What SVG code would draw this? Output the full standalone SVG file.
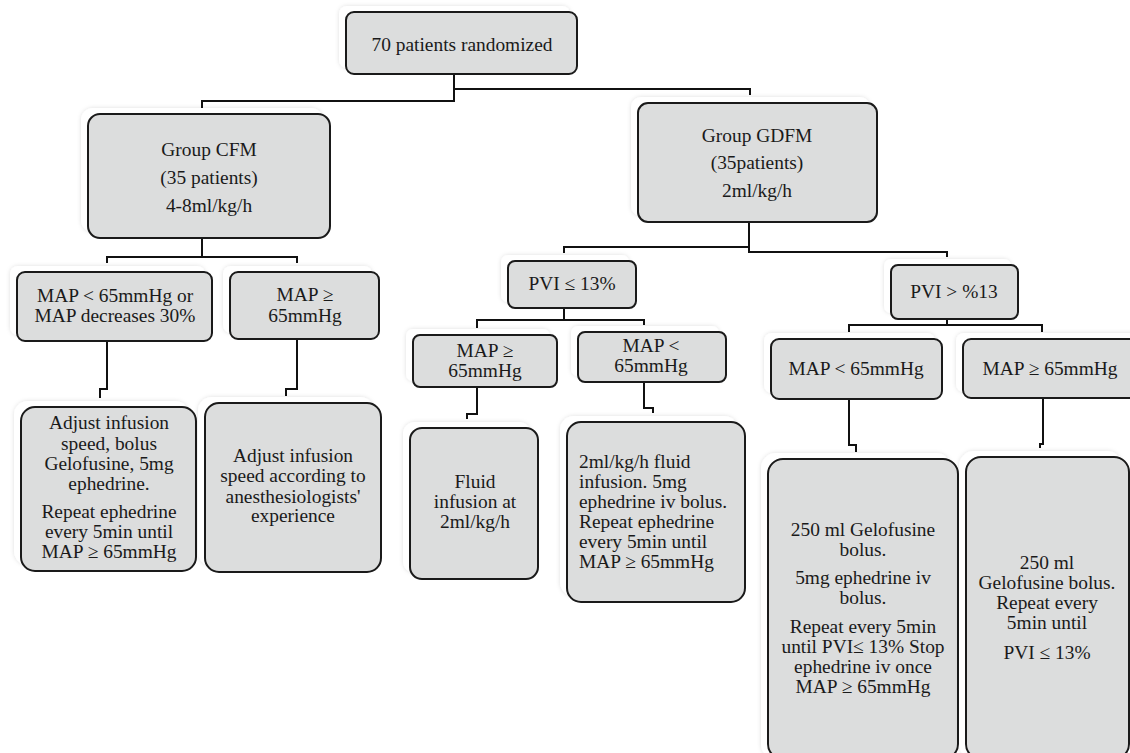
<svg xmlns="http://www.w3.org/2000/svg" width="1130" height="753" viewBox="0 0 1130 753">
<style>
.halo{fill:#ffffff;filter:url(#sh)}
.box{fill:#dcdddd;stroke:#1a1a1a;stroke-width:2}
.t{font-family:"Liberation Serif","Times New Roman",serif;font-size:19.4px;fill:#1a1a1a;text-anchor:middle}
.tl{font-family:"Liberation Serif","Times New Roman",serif;font-size:19.4px;fill:#1a1a1a;text-anchor:start}
.c{fill:none;stroke:#111;stroke-width:2}
</style>
<defs>
<filter id="sh" x="-10%" y="-10%" width="120%" height="120%">
<feDropShadow dx="0" dy="0" stdDeviation="2" flood-color="#000" flood-opacity="0.13"/>
</filter>
</defs>
<rect width="1130" height="753" fill="#ffffff"/>

<g id="connectors">
<path class="c" d="M454,74 V101 H202 V108"/>
<path class="c" d="M454,89 H750 V95"/>
<path class="c" d="M202,238 V257 M107,263 V257 H297 V263"/>
<path class="c" d="M107,341 V389 H100 V398"/>
<path class="c" d="M297,339 V389 H286 V396"/>
<path class="c" d="M749,222 V252 H947 V257 M749,247 H564 V253"/>
<path class="c" d="M564,308 V320 M477,328 V320 H644 V325"/>
<path class="c" d="M947,319 V325 M849,332 V325 H1042 V332"/>
<path class="c" d="M477,387 V414 H467 V419"/>
<path class="c" d="M644,382 V408 H653 V413"/>
<path class="c" d="M849,399 V445 H856 V452"/>
<path class="c" d="M1043,398 V444 H1040 V448"/>
</g>

<g id="n-randomized">
<rect class="halo" x="339" y="6" width="231" height="62" rx="8"/>
<rect class="box" x="346" y="12" width="231" height="62" rx="8"/>
<text class="t" x="462" y="50.5">70 patients randomized</text>
</g>

<g id="n-cfm">
<rect class="halo" x="81" y="108" width="242" height="124" rx="12"/>
<rect class="box" x="88" y="114" width="242" height="124" rx="12"/>
<text class="t" x="209" y="155.5">Group CFM</text>
<text class="t" x="209" y="183.5">(35 patients)</text>
<text class="t" x="209" y="211.5">4-8ml/kg/h</text>
</g>

<g id="n-gdfm">
<rect class="halo" x="631" y="97" width="239" height="119" rx="10"/>
<rect class="box" x="638" y="103" width="239" height="119" rx="10"/>
<text class="t" x="757" y="141.5">Group GDFM</text>
<text class="t" x="757" y="169">(35patients)</text>
<text class="t" x="757" y="196.5">2ml/kg/h</text>
</g>

<g id="n-cfm-low">
<rect class="halo" x="10" y="266" width="195" height="69" rx="8"/>
<rect class="box" x="17" y="272" width="195" height="69" rx="8"/>
<text class="t" x="115" y="302">MAP &lt; 65mmHg or</text>
<text class="t" x="115" y="322">MAP decreases 30%</text>
</g>

<g id="n-cfm-high">
<rect class="halo" x="223" y="266" width="149" height="67" rx="8"/>
<rect class="box" x="230" y="272" width="149" height="67" rx="8"/>
<text class="t" x="305" y="301">MAP ≥</text>
<text class="t" x="305" y="321.5">65mmHg</text>
</g>

<g id="n-pvi-low">
<rect class="halo" x="501" y="255" width="128" height="47" rx="7"/>
<rect class="box" x="508" y="261" width="128" height="47" rx="7"/>
<text class="t" x="572" y="290">PVI ≤ 13%</text>
</g>

<g id="n-pvi-high">
<rect class="halo" x="884" y="259" width="127" height="54" rx="7"/>
<rect class="box" x="891" y="265" width="127" height="54" rx="7"/>
<text class="t" x="954" y="298">PVI &gt; %13</text>
</g>

<g id="n-mid-map-high">
<rect class="halo" x="406" y="329" width="144" height="52" rx="7"/>
<rect class="box" x="413" y="335" width="144" height="52" rx="7"/>
<text class="t" x="485" y="356.5">MAP ≥</text>
<text class="t" x="485" y="376.5">65mmHg</text>
</g>

<g id="n-mid-map-low">
<rect class="halo" x="571" y="326" width="148" height="50" rx="7"/>
<rect class="box" x="578" y="332" width="148" height="50" rx="7"/>
<text class="t" x="651" y="352">MAP &lt;</text>
<text class="t" x="651" y="372">65mmHg</text>
</g>

<g id="n-right-map-low">
<rect class="halo" x="764" y="333" width="171" height="60" rx="8"/>
<rect class="box" x="771" y="339" width="171" height="60" rx="8"/>
<text class="t" x="856" y="375">MAP &lt; 65mmHg</text>
</g>

<g id="n-right-map-high">
<rect class="halo" x="956" y="333" width="190" height="59" rx="8"/>
<rect class="box" x="963" y="339" width="190" height="59" rx="8"/>
<text class="t" x="1050" y="375">MAP ≥ 65mmHg</text>
</g>

<g id="n-cfm-action-low">
<rect class="halo" x="14" y="401" width="175" height="164" rx="14"/>
<rect class="box" x="21" y="407" width="175" height="164" rx="14"/>
<text class="t" x="109" y="429">Adjust infusion</text>
<text class="t" x="109" y="450">speed, bolus</text>
<text class="t" x="109" y="470">Gelofusine, 5mg</text>
<text class="t" x="109" y="490">ephedrine.</text>
<text class="t" x="109" y="518">Repeat ephedrine</text>
<text class="t" x="109" y="538">every 5min until</text>
<text class="t" x="109" y="558">MAP ≥ 65mmHg</text>
</g>

<g id="n-cfm-action-high">
<rect class="halo" x="198" y="397" width="176" height="169" rx="14"/>
<rect class="box" x="205" y="403" width="176" height="169" rx="14"/>
<text class="t" x="293" y="461.5">Adjust infusion</text>
<text class="t" x="293" y="482">speed according to</text>
<text class="t" x="293" y="502.5">anesthesiologists'</text>
<text class="t" x="293" y="522">experience</text>
</g>

<g id="n-fluid">
<rect class="halo" x="403" y="422" width="128" height="151" rx="12"/>
<rect class="box" x="410" y="428" width="128" height="151" rx="12"/>
<text class="t" x="475" y="488">Fluid</text>
<text class="t" x="475" y="508">infusion at</text>
<text class="t" x="475" y="528">2ml/kg/h</text>
</g>

<g id="n-2ml">
<rect class="halo" x="560" y="416" width="178" height="180" rx="14"/>
<rect class="box" x="567" y="422" width="178" height="180" rx="14"/>
<text class="tl" x="579" y="468">2ml/kg/h fluid</text>
<text class="tl" x="579" y="488">infusion. 5mg</text>
<text class="tl" x="579" y="508">ephedrine iv bolus.</text>
<text class="tl" x="579" y="528">Repeat ephedrine</text>
<text class="tl" x="579" y="548">every 5min until</text>
<text class="tl" x="579" y="568">MAP ≥ 65mmHg</text>
</g>

<g id="n-gelo-ephedrine">
<rect class="halo" x="761" y="453" width="190" height="306" rx="15"/>
<rect class="box" x="768" y="459" width="190" height="300" rx="15"/>
<text class="t" x="863" y="536">250 ml Gelofusine</text>
<text class="t" x="863" y="556">bolus.</text>
<text class="t" x="863" y="584">5mg ephedrine iv</text>
<text class="t" x="863" y="604">bolus.</text>
<text class="t" x="863" y="633">Repeat every 5min</text>
<text class="t" x="863" y="653">until PVI≤ 13% Stop</text>
<text class="t" x="863" y="673">ephedrine iv once</text>
<text class="t" x="863" y="693">MAP ≥ 65mmHg</text>
</g>

<g id="n-gelo">
<rect class="halo" x="959" y="451" width="163" height="308" rx="15"/>
<rect class="box" x="966" y="457" width="163" height="302" rx="15"/>
<text class="t" x="1047" y="568.5">250 ml</text>
<text class="t" x="1047" y="588.5">Gelofusine bolus.</text>
<text class="t" x="1047" y="608.5">Repeat every</text>
<text class="t" x="1047" y="628.5">5min until</text>
<text class="t" x="1047" y="658.5">PVI ≤ 13%</text>
</g>
</svg>
